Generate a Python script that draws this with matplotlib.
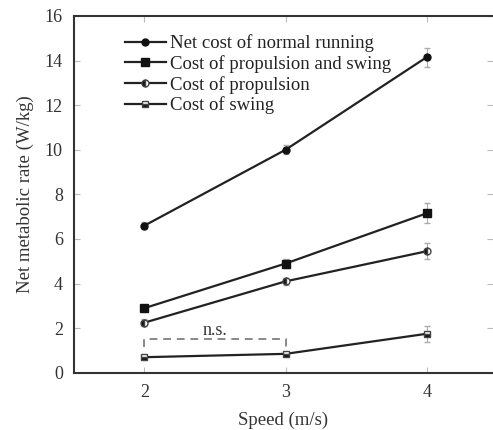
import matplotlib.pyplot as plt

plt.rcParams['font.family'] = ['Liberation Serif', 'DejaVu Serif']

speed = [2, 3, 4]
net_cost = [6.6, 10.0, 14.15]
net_cost_err = [0.15, 0.2, 0.42]
prop_swing = [2.9, 4.9, 7.15]
prop_swing_err = [0.15, 0.2, 0.45]
propulsion = [2.25, 4.1, 5.45]
propulsion_err = [0.15, 0.15, 0.35]
swing = [0.7, 0.85, 1.75]
swing_err = [0.1, 0.1, 0.35]

labels = ["Net cost of normal running", "Cost of propulsion and swing",
          "Cost of propulsion", "Cost of swing"]

fig = plt.figure(figsize=(4.93, 4.30), dpi=100)
ax = fig.add_axes([0.150, 0.133, 0.85, 0.830])

line_kw = dict(color='#222222', lw=1.6, capsize=2, ecolor='#aaaaaa', elinewidth=0.8)
c1 = ax.errorbar(speed, net_cost, yerr=net_cost_err, marker='o', ms=5, mfc='#111111', mec='#111111', **line_kw)
c2 = ax.errorbar(speed, prop_swing, yerr=prop_swing_err, marker='s', ms=6, mfc='#111111', mec='#111111', **line_kw)
c3 = ax.errorbar(speed, propulsion, yerr=propulsion_err, marker='o', ms=5, fillstyle='left', mfc='#111111', mec='#444444', mfcalt='white', **line_kw)
c4 = ax.errorbar(speed, swing, yerr=swing_err, marker='s', ms=5, fillstyle='bottom', mfc='#111111', mec='#444444', mfcalt='white', **line_kw)

# n.s. bracket between 2 and 3 m/s
ax.plot([2, 2, 3, 3], [1.15, 1.5, 1.5, 1.15], ls='--', color='#888888', lw=1.4, dashes=(4, 3))
ax.text(2.5, 1.5, "n.s.", ha='center', va='bottom', fontsize=13, color='#333333')

ax.set_xlim(1.5, 4.47)
ax.set_ylim(0, 16)
ax.set_xticks(speed)
ax.set_yticks(range(0, 17, 2))
ax.tick_params(direction='in', length=4, color='#bbbbbb', top=True, right=True,
               labelsize=13, labelcolor='#333333', pad=8)
for s in ['left', 'bottom', 'top']:
    ax.spines[s].set_linewidth(1.5)
    ax.spines[s].set_color('#333333')
ax.spines['right'].set_visible(False)

ax.set_xlabel("Speed (m/s)", fontsize=13.5, color='#333333', labelpad=8)
ax.set_ylabel("Net metabolic rate (W/kg)", fontsize=13.5, color='#333333', labelpad=8)

leg = ax.legend([c1[0], c2[0], c3[0], c4[0]], labels, loc='upper left',
                bbox_to_anchor=(0.085, 0.99), frameon=False, fontsize=13.5,
                handlelength=2.2, handletextpad=0.2, labelspacing=0.15, borderpad=0.3)
for t in leg.get_texts():
    t.set_color('#222222')

fig.savefig("out.png", dpi=100)
